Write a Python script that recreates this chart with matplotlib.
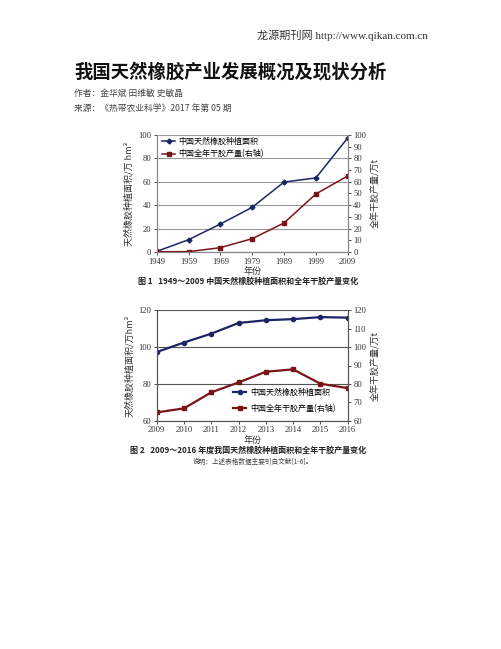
import matplotlib
matplotlib.use("Agg")
import matplotlib.pyplot as plt

plt.rcParams['font.family'] = ['Liberation Serif', 'Noto Sans CJK SC', 'DejaVu Sans']

# Figure 1 data
years1 = [1949, 1959, 1969, 1979, 1989, 1999, 2009]
area1 = [0.5, 10.5, 23.9, 38.2, 59.8, 63.3, 97.5]
prod1 = [0.2, 0.3, 3.7, 11.4, 24.8, 49.6, 65.0]

# Figure 2 data
years2 = [2009, 2010, 2011, 2012, 2013, 2014, 2015, 2016]
area2 = [97.3, 102.5, 107.3, 113.1, 114.6, 115.2, 116.3, 116.0]
prod2 = [64.5, 66.7, 75.4, 80.8, 86.6, 87.9, 80.1, 77.7]

blue = '#1c2566'
red = '#7a1419'
cjk = ['Noto Sans CJK SC', 'DejaVu Sans']

fig = plt.figure(figsize=(5.02, 6.49), dpi=100)
W, H = 502, 649

def fy(y):
    return 1 - y / H

# Header texts
fig.text(428 / W, fy(35), '龙源期刊网 http://www.qikan.com.cn', ha='right', va='center',
         fontsize=8, family=['Liberation Serif', 'Noto Sans CJK SC'], color='#333333')
fig.text(74 / W, fy(72), '我国天然橡胶产业发展概况及现状分析', ha='left', va='center',
         fontsize=13.2, fontweight='bold', family=cjk, color='#111111')
fig.text(74 / W, fy(93), '作者：金华斌 田维敏 史敏晶', ha='left', va='center',
         fontsize=6.3, family=cjk, color='#444444')
fig.text(74 / W, fy(108), '来源：《热带农业科学》2017 年第 05 期', ha='left', va='center',
         fontsize=6.3, family=cjk, color='#444444')

tick_fs = 6.2

# ---------- Chart 1 ----------
ax1 = fig.add_axes([156.7 / W, fy(252), 191 / W, 117 / H])
ax1.plot(years1, area1, color=blue, marker='D', markersize=2.5, lw=1.1,
         label='中国天然橡胶种植面积')
ax1.set_xlim(1949, 2009)
ax1.set_ylim(0, 100)
ax1.set_xticks(years1)
ax1.set_yticks(range(0, 101, 20))
ax1.grid(axis='y', color='#9a9a9a', lw=0.8)
ax1.set_axisbelow(True)
ax1.spines['top'].set_visible(False)
for s in ['left', 'right', 'bottom']:
    ax1.spines[s].set_color('#888888')
ax1.tick_params(labelsize=tick_fs, length=2, width=0.6, colors='#333333', pad=2)
ax1.set_ylabel('天然橡胶种植面积/万 hm²', fontsize=6.5, family=cjk, labelpad=3, color='#333333')
ax1.set_xlabel('年份', fontsize=6.5, family=cjk, labelpad=1, color='#333333')
ax1b = ax1.twinx()
ax1b.plot(years1, prod1, color=red, marker='s', markersize=2.5, lw=1.1,
          label='中国全年干胶产量(右轴)')
ax1b.set_ylim(0, 100)
ax1b.set_yticks(range(0, 101, 10))
ax1b.spines['top'].set_visible(False)
for s in ['left', 'right', 'bottom']:
    ax1b.spines[s].set_color('#888888')
ax1b.tick_params(labelsize=tick_fs, length=2, width=0.6, colors='#333333', pad=2)
ax1b.set_ylabel('全年干胶产量/万t', fontsize=6.5, family=cjk, labelpad=3, color='#333333')
h1, l1 = ax1.get_legend_handles_labels()
h2, l2 = ax1b.get_legend_handles_labels()
ax1b.legend(h1 + h2, l1 + l2, loc='upper left', bbox_to_anchor=(0.02, 1.0),
            prop={'family': cjk, 'size': 5.8}, frameon=False, handlelength=1.6,
            handletextpad=0.4, labelspacing=0.45, borderaxespad=0.0, borderpad=0.2)

fig.text(248 / W, fy(281), '图 1   1949～2009 中国天然橡胶种植面积和全年干胶产量变化',
         ha='center', va='center', fontsize=5.8, fontweight='bold', family=cjk, color='#222222')

# ---------- Chart 2 ----------
ax2 = fig.add_axes([156.7 / W, fy(420.7), 191 / W, 110.4 / H])
ax2.plot(years2, area2, color=blue, marker='o', markersize=3, lw=1.6,
         label='中国天然橡胶种植面积')
ax2.set_xlim(2009, 2016)
ax2.set_ylim(60, 120)
ax2.set_xticks(years2)
ax2.set_yticks(range(60, 121, 20))
ax2.grid(axis='y', color='#555555', lw=0.8)
ax2.set_axisbelow(True)
for s in ['left', 'right', 'bottom', 'top']:
    ax2.spines[s].set_color('#555555')
ax2.spines['top'].set_visible(False)
ax2.tick_params(labelsize=tick_fs, length=2, width=0.6, colors='#333333', pad=2)
ax2.set_ylabel('天然橡胶种植面积/万hm²', fontsize=6.5, family=cjk, labelpad=3, color='#333333')
ax2.set_xlabel('年份', fontsize=6.5, family=cjk, labelpad=1, color='#333333')
ax2b = ax2.twinx()
ax2b.plot(years2, prod2, color=red, marker='s', markersize=3, lw=1.6,
          label='中国全年干胶产量(右轴)')
ax2b.set_ylim(60, 120)
ax2b.set_yticks(range(60, 121, 10))
ax2b.spines['top'].set_visible(False)
for s in ['left', 'right', 'bottom']:
    ax2b.spines[s].set_color('#555555')
ax2b.tick_params(labelsize=tick_fs, length=2, width=0.6, colors='#333333', pad=2)
ax2b.set_ylabel('全年干胶产量/万t', fontsize=6.5, family=cjk, labelpad=3, color='#333333')
h1, l1 = ax2.get_legend_handles_labels()
h2, l2 = ax2b.get_legend_handles_labels()
ax2b.legend(h1 + h2, l1 + l2, loc='center left', bbox_to_anchor=(0.40, 0.185),
            prop={'family': cjk, 'size': 5.8}, frameon=False, handlelength=1.6,
            handletextpad=0.5, labelspacing=0.95, borderaxespad=0.0, borderpad=0.0)

fig.text(248 / W, fy(450), '图 2   2009～2016 年度我国天然橡胶种植面积和全年干胶产量变化',
         ha='center', va='center', fontsize=5.8, fontweight='bold', family=cjk, color='#222222')
fig.text(253 / W, fy(462), '说明：上述表格数据主要引自文献[1-6]。',
         ha='center', va='center', fontsize=4.8, family=cjk, color='#444444')

fig.savefig('out.png', dpi=100, facecolor='white')
